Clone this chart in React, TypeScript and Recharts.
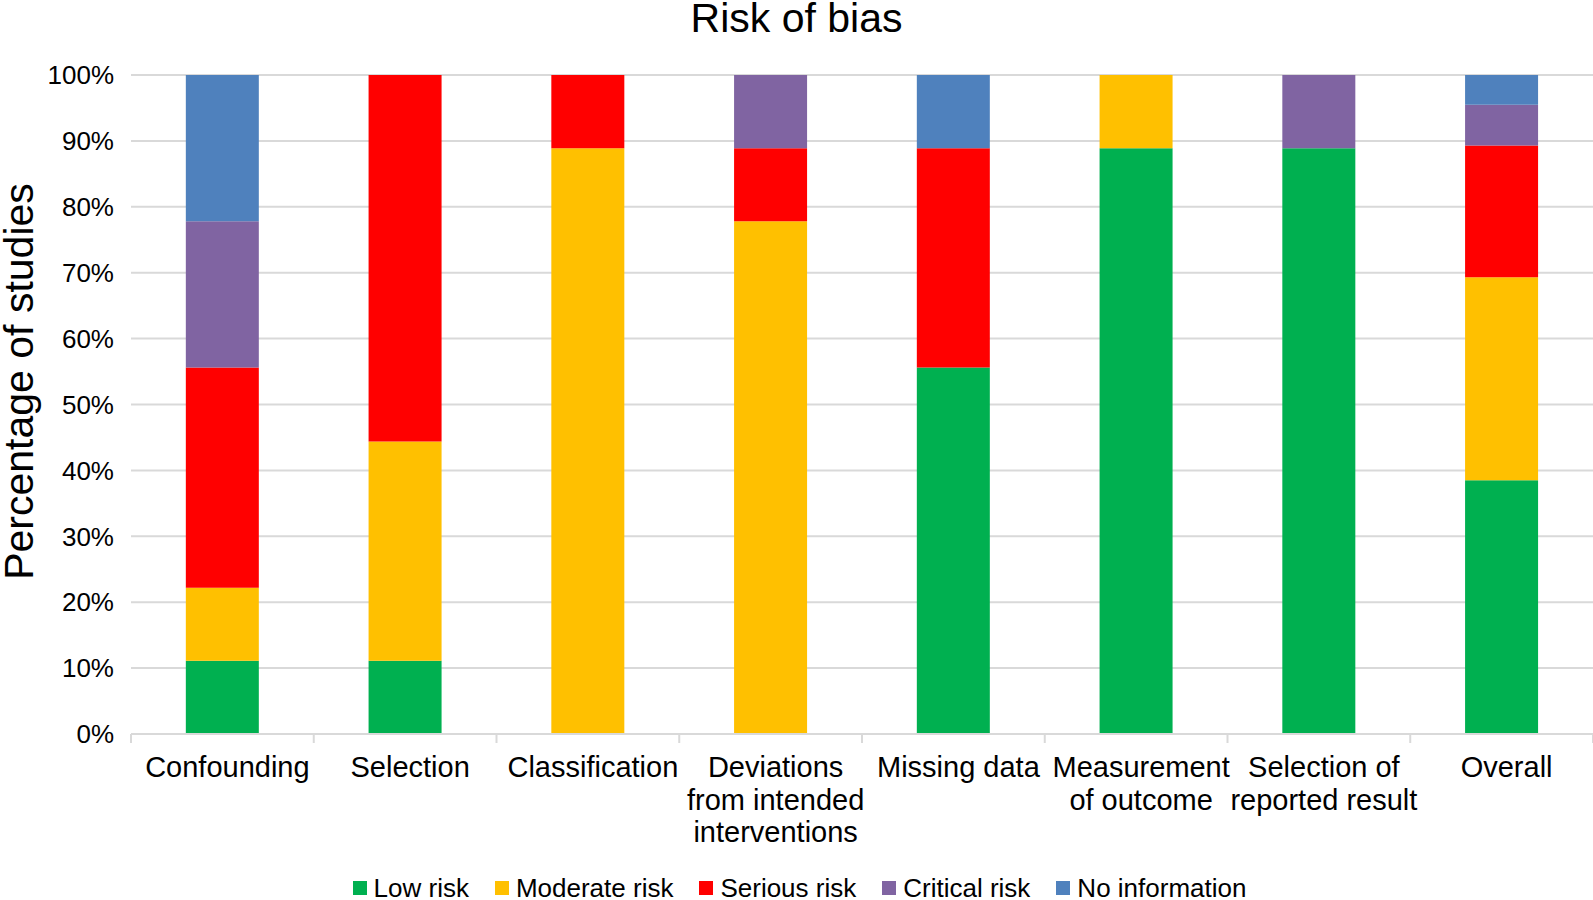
import { BarChart, Bar, XAxis, YAxis, CartesianGrid, Legend } from 'recharts';

const categories = [
    'Confounding',
    'Selection',
    'Classification',
    'Deviations from intended interventions',
    'Missing data',
    'Measurement of outcome',
    'Selection of reported result',
    'Overall',
];

// how each category label wraps under the axis
const tickLines: string[][] = [
    ['Confounding'],
    ['Selection'],
    ['Classification'],
    ['Deviations', 'from intended', 'interventions'],
    ['Missing data'],
    ['Measurement', 'of outcome'],
    ['Selection of', 'reported result'],
    ['Overall'],
];

const lowRisk = [11.1, 11.1, 0, 0, 55.6, 88.9, 88.9, 38.5];
const moderateRisk = [11.1, 33.3, 88.9, 77.8, 0, 11.1, 0, 30.8];
const seriousRisk = [33.4, 55.6, 11.1, 11.1, 33.3, 0, 0, 20.0];
const criticalRisk = [22.2, 0, 0, 11.1, 0, 0, 11.1, 6.2];
const noInformation = [22.2, 0, 0, 0, 11.1, 0, 0, 4.5];

const yTicks = [0, 10, 20, 30, 40, 50, 60, 70, 80, 90, 100];

const series = [
    { key: 'low', name: 'Low risk', color: '#00B050' },
    { key: 'moderate', name: 'Moderate risk', color: '#FFC000' },
    { key: 'serious', name: 'Serious risk', color: '#FF0000' },
    { key: 'critical', name: 'Critical risk', color: '#8064A2' },
    { key: 'noinfo', name: 'No information', color: '#4F81BD' },
];

const data = categories.map((c, i) => ({
    category: c,
    low: lowRisk[i],
    moderate: moderateRisk[i],
    serious: seriousRisk[i],
    critical: criticalRisk[i],
    noinfo: noInformation[i],
}));

const FONT = '"Liberation Sans", Arial, sans-serif';
const GRID = '#D9D9D9';

function CategoryTick(props: any) {
    const { x, y, payload, index } = props;
    const half = payload?.offset ?? 91.4;
    const lines = tickLines[index] || [String(payload.value)];
    const isLast = index === categories.length - 1;
    return (
        <g>
            <line x1={x - half} x2={x - half} y1={y - 8} y2={y + 1} stroke={GRID} strokeWidth={2} />
            {isLast && <line x1={x + half} x2={x + half} y1={y - 8} y2={y + 1} stroke={GRID} strokeWidth={2} />}
            {lines.map((l, i) => (
                <text key={i} x={x + 5} y={y + 35 + i * 32.5} textAnchor="middle" fill="#000" fontSize={29} fontFamily={FONT}>
                    {l}
                </text>
            ))}
        </g>
    );
}

function LegendContent() {
    return (
        <div style={{ height: 30, display: 'flex', justifyContent: 'center', alignItems: 'flex-start', paddingTop: 5, paddingLeft: 6, boxSizing: 'border-box' }}>
            {series.map((s) => (
                <div key={s.key} style={{ display: 'flex', alignItems: 'center', margin: '0 13px', height: 26 }}>
                    <span style={{ width: 14, height: 14, background: s.color, display: 'inline-block', marginRight: 7 }} />
                    <span style={{ fontSize: 26, lineHeight: '26px', fontFamily: FONT, color: '#000' }}>{s.name}</span>
                </div>
            ))}
        </div>
    );
}

export default function App() {
    return (
        <div style={{ position: 'absolute', left: 0, top: 0, width: 1593, height: 900, overflow: 'hidden', background: '#fff' }}>
            <div
                style={{
                    position: 'absolute',
                    top: -2,
                    left: 0,
                    width: 1593,
                    textAlign: 'center',
                    fontSize: 41,
                    lineHeight: '41px',
                    fontFamily: FONT,
                    color: '#000',
                }}
            >
                Risk of bias
            </div>
            <BarChart
                width={1593}
                height={900}
                data={data}
                margin={{ top: 75, right: 0, left: 0, bottom: 0 }}
                barCategoryGap="30%"
            >
                <CartesianGrid vertical={false} stroke={GRID} strokeWidth={2} />
                <XAxis
                    dataKey="category"
                    interval={0}
                    height={136}
                    tickSize={8}
                    tickMargin={0}
                    tickLine={false}
                    axisLine={{ stroke: GRID, strokeWidth: 2 }}
                    tick={<CategoryTick />}
                />
                <YAxis
                    width={131}
                    domain={[0, 100]}
                    ticks={yTicks}
                    interval={0}
                    axisLine={false}
                    tickLine={false}
                    tickSize={0}
                    tickMargin={17}
                    tickFormatter={(v) => `${v}%`}
                    tick={{ fill: '#000', fontSize: 26, fontFamily: FONT }}
                    label={{
                        content: (p: any) => {
                            const vb = p.viewBox || { x: 0, y: 75, width: 131, height: 658 };
                            const cx = vb.x + 19;
                            const cy = vb.y + vb.height / 2 - 23;
                            return (
                                <text
                                    x={cx}
                                    y={cy}
                                    transform={`rotate(-90, ${cx}, ${cy})`}
                                    textAnchor="middle"
                                    dominantBaseline="central"
                                    fontSize={41}
                                    fontFamily={FONT}
                                    fill="#000"
                                >
                                    Percentage of studies
                                </text>
                            );
                        },
                    }}
                />
                <Legend verticalAlign="bottom" content={<LegendContent />} />
                {series.map((s) => (
                    <Bar key={s.key} dataKey={s.key} name={s.name} stackId="a" fill={s.color} isAnimationActive={false} />
                ))}
            </BarChart>
        </div>
    );
}
